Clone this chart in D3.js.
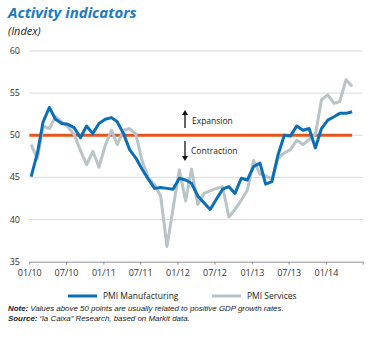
<!DOCTYPE html>
<html>
<head>
<meta charset="utf-8">
<script src="https://cdn.jsdelivr.net/npm/d3@7/dist/d3.min.js"></script>
<style>
  html, body { margin: 0; padding: 0; background: #fff; }
  svg { display: block; }
  text { font-family: "Open Sans", "Noto Sans", sans-serif; }
  .foot { font-family: "Liberation Sans", sans-serif; }
</style>
</head>
<body>
<svg id="chart" width="381" height="338"></svg>
<script>
// Monthly PMI readings, January 2010 to May 2014
const startYear = 2010;
const pmiManufacturing = [
  45.1, 47.9, 51.6, 53.3, 51.9, 51.4, 51.3, 50.9, 49.7, 51.1, 50.2, 51.4,
  51.9, 52.1, 51.6, 50.2, 48.3, 47.3, 46.0, 44.8, 43.7, 43.8, 43.7, 43.6,
  44.9, 44.7, 44.3, 42.8, 42.0, 41.2, 42.4, 43.6, 43.9, 43.1, 44.9, 44.7,
  46.3, 46.7, 44.2, 44.5, 47.7, 50.0, 49.9, 51.1, 50.6, 50.8, 48.5, 50.8,
  51.8, 52.2, 52.6, 52.6, 52.8
];
const pmiServices = [
  48.9, 47.2, 51.1, 50.8, 52.2, 51.6, 51.0, 50.1, 48.2, 46.5, 48.1, 46.2,
  48.8, 50.6, 48.9, 50.6, 50.8, 50.1, 47.0, 45.0, 44.1, 42.8, 36.8, 41.3,
  45.9, 42.2, 46.0, 41.8, 43.1, 43.4, 43.7, 43.9, 40.3, 41.2, 42.3, 43.5,
  47.0, 45.4, 45.2, 44.8, 47.3, 47.9, 48.3, 49.4, 48.9, 49.5, 50.1, 54.2,
  54.8, 53.8, 54.0, 56.6, 55.8
];
const yTicks = [35, 40, 45, 50, 55, 60];
const threshold = 50;
const seriesNames = ["PMI Manufacturing", "PMI Services"];

const months = pmiManufacturing.map((_, i) => new Date(startYear, i, 10));

const svg = d3.select("#chart");
const x = d3.scaleTime()
  .domain([new Date(2010, 0, 1), new Date(2014, 6, 1)])
  .range([29.3, 362.7]);
const y = d3.scaleLinear().domain([35, 60]).range([261.7, 51]);

const blue = "#0b6fb6", grey = "#b8c4c8", orange = "#e4561f";

// Title block
svg.append("text").attr("x", 8).attr("y", 18)
  .attr("font-size", 15).attr("font-weight", 700).attr("font-style", "italic")
  .attr("fill", "#1b7ac0").text("Activity indicators");
svg.append("text").attr("x", 8).attr("y", 35)
  .attr("font-size", 11).attr("font-style", "italic")
  .attr("fill", "#222").text("(Index)");

// Horizontal grid
svg.append("g").selectAll("line").data(yTicks.filter(d => d > 35)).join("line")
  .attr("x1", 29.3).attr("x2", 362.7)
  .attr("y1", d => y(d)).attr("y2", d => y(d))
  .attr("stroke", "#cfd2d3").attr("stroke-width", 0.8);

// Y labels
svg.append("g").selectAll("text").data(yTicks).join("text")
  .attr("x", 20).attr("y", d => y(d) + 3)
  .attr("text-anchor", "end").attr("font-size", 9).attr("fill", "#333")
  .text(d => d);

// X axis
const xAxis = d3.axisBottom(x)
  .ticks(d3.timeMonth.every(6))
  .tickFormat(d3.timeFormat("%m/%y"))
  .tickSizeOuter(0).tickSizeInner(3).tickPadding(5);
const gx = svg.append("g").attr("transform", `translate(0,${y(35)})`).call(xAxis);
gx.select(".domain").attr("stroke", "#777").attr("stroke-width", 0.8);
gx.selectAll(".tick line").attr("stroke", "#777").attr("stroke-width", 0.8);
gx.selectAll(".tick text").attr("font-size", 9).attr("fill", "#333")
  .attr("font-family", "'Open Sans', sans-serif")
  .text(d => d < new Date(2014, 5, 1) ? d3.timeFormat("%m/%y")(d) : "");

// Threshold line at 50
svg.append("line")
  .attr("x1", 29.3).attr("x2", x(months[months.length - 1]))
  .attr("y1", y(threshold)).attr("y2", y(threshold))
  .attr("stroke", orange).attr("stroke-width", 3);

// Expansion / contraction markers
const markX = 185;
function arrow(y1, y2) {
  const dir = y2 > y1 ? 1 : -1;
  svg.append("line").attr("x1", markX).attr("x2", markX)
    .attr("y1", y1).attr("y2", y2 - dir * 4)
    .attr("stroke", "#111").attr("stroke-width", 1.3);
  svg.append("path")
    .attr("d", `M${markX - 3},${y2 - dir * 5} L${markX},${y2} L${markX + 3},${y2 - dir * 5} Z`)
    .attr("fill", "#111");
}
arrow(128, 110);
arrow(141, 161);
svg.append("text").attr("x", 192).attr("y", 123.5)
  .attr("font-size", 8.5).attr("fill", "#222").text("Expansion");
svg.append("text").attr("x", 191).attr("y", 153.5)
  .attr("font-size", 8.5).attr("fill", "#222").text("Contraction");

// Series lines
const line = d3.line().x((d, i) => x(months[i])).y(d => y(d));
svg.append("path").datum(pmiServices).attr("d", line)
  .attr("fill", "none").attr("stroke", grey).attr("stroke-width", 3)
  .attr("stroke-linejoin", "round");
svg.append("path").datum(pmiManufacturing).attr("d", line)
  .attr("fill", "none").attr("stroke", blue).attr("stroke-width", 3)
  .attr("stroke-linejoin", "round");

// Legend
const legend = [
  { name: seriesNames[0], color: blue, x: 68 },
  { name: seriesNames[1], color: grey, x: 212 }
];
const lg = svg.append("g").selectAll("g").data(legend).join("g")
  .attr("transform", d => `translate(${d.x},296)`);
lg.append("line").attr("x1", 0).attr("x2", 29).attr("y1", 0).attr("y2", 0)
  .attr("stroke", d => d.color).attr("stroke-width", 3);
lg.append("text").attr("x", 35).attr("y", 3).attr("font-size", 8.5)
  .attr("fill", "#222").text(d => d.name);

// Footnotes: bold label followed by italic body, sized so the note spans ~276px
const notes = [
  ["Note:", "Values above 50 points are usually related to positive GDP growth rates.", 311],
  ["Source:", "\u201cla Caixa\u201d Research, based on Markit data.", 321]
];
const footRows = notes.map(([label, body, yPos]) => {
  const lab = svg.append("text").attr("class", "foot").attr("x", 8).attr("y", yPos)
    .attr("font-size", 8).attr("font-style", "italic").attr("font-weight", 700)
    .attr("fill", "#1a1a1a").text(label);
  const txt = svg.append("text").attr("class", "foot").attr("y", yPos)
    .attr("font-size", 8).attr("font-style", "italic")
    .attr("fill", "#1a1a1a").text(body);
  return { lab, txt };
});
const w0 = footRows[0].lab.node().getComputedTextLength() + 2 +
  footRows[0].txt.node().getComputedTextLength();
const footSize = Math.min(9, 8 * 276 / w0);
footRows.forEach(({ lab, txt }) => {
  lab.attr("font-size", footSize);
  txt.attr("font-size", footSize);
  txt.attr("x", 8 + lab.node().getComputedTextLength() + 2);
});
</script>
</body>
</html>
